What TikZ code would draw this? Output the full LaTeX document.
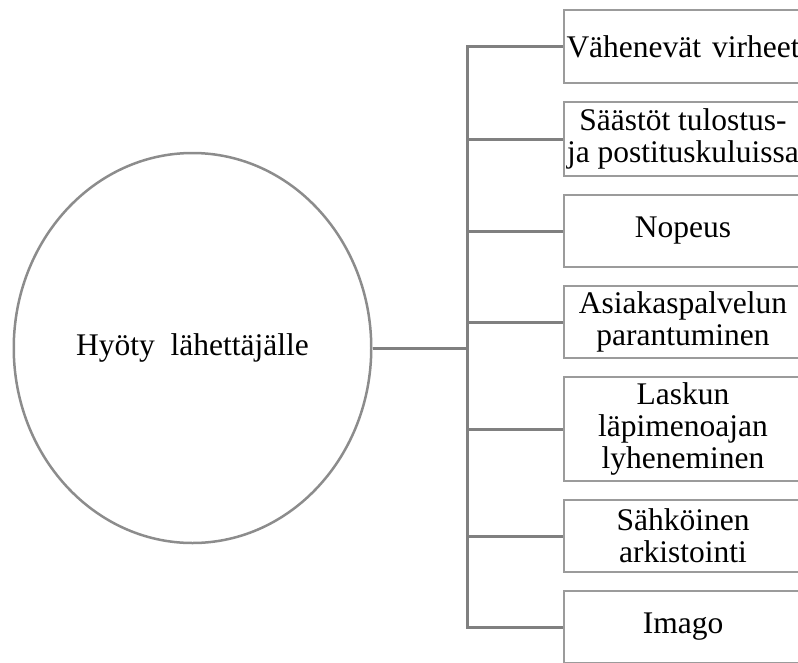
\documentclass[tikz,border=0pt]{standalone}
\usepackage{fontspec}
\setmainfont{Liberation Serif}
\usetikzlibrary{positioning,shapes.geometric}
\definecolor{linegray}{RGB}{128,128,128}
\definecolor{boxgray}{RGB}{155,155,155}
\definecolor{ringgray}{RGB}{140,140,140}
\tikzset{
  txt/.style={font=\fontsize{31.5}{32}\selectfont},
  box/.style={txt, draw=boxgray, line width=2.5pt, minimum width=238pt,
    minimum height=72pt, inner xsep=0pt, inner ysep=0pt, align=center},
  link/.style={draw=linegray, line width=3pt},
}
\begin{document}
\begin{tikzpicture}[x=1pt, y=-1pt, node distance=16.5pt]
  \useasboundingbox (0,0) rectangle (798,662);
  \clip (0,0) rectangle (798,662);
  \node (hyoty) [txt, ellipse, draw=ringgray, line width=2.5pt, inner sep=0pt,
    minimum width=357.5pt, minimum height=390pt] at (192.5,348) {Hyöty~~lähettäjälle};
  \node (virheet) [box, minimum height=73pt] at (683,46.5) {Vähenevät\hspace{3pt} virheet};
  \node (saastot) [box, minimum height=74pt, below=of virheet] {Säästöt tulostus-\\ja postituskuluissa};
  \node (nopeus) [box, below=of saastot] {Nopeus};
  \node (asiakas) [box, below=of nopeus] {Asiakaspalvelun\\parantuminen};
  \node (laskun) [box, minimum height=104pt, below=of asiakas] {Laskun\\läpimenoajan\\lyheneminen};
  \node (arkisto) [box, below=of laskun] {Sähköinen\\arkistointi};
  \node (imago) [box, below=of arkisto] {Imago};
  \coordinate (trunk) at (467.5,348);
  \draw[link] (hyoty.east) -- (trunk);
  \draw[link] (virheet.west) -- (virheet.west -| trunk) -- (imago.west -| trunk) -- (imago.west);
  \foreach \b in {saastot,nopeus,asiakas,laskun,arkisto}
    \draw[link] (\b.west -| trunk) -- (\b.west);
\end{tikzpicture}
\end{document}
